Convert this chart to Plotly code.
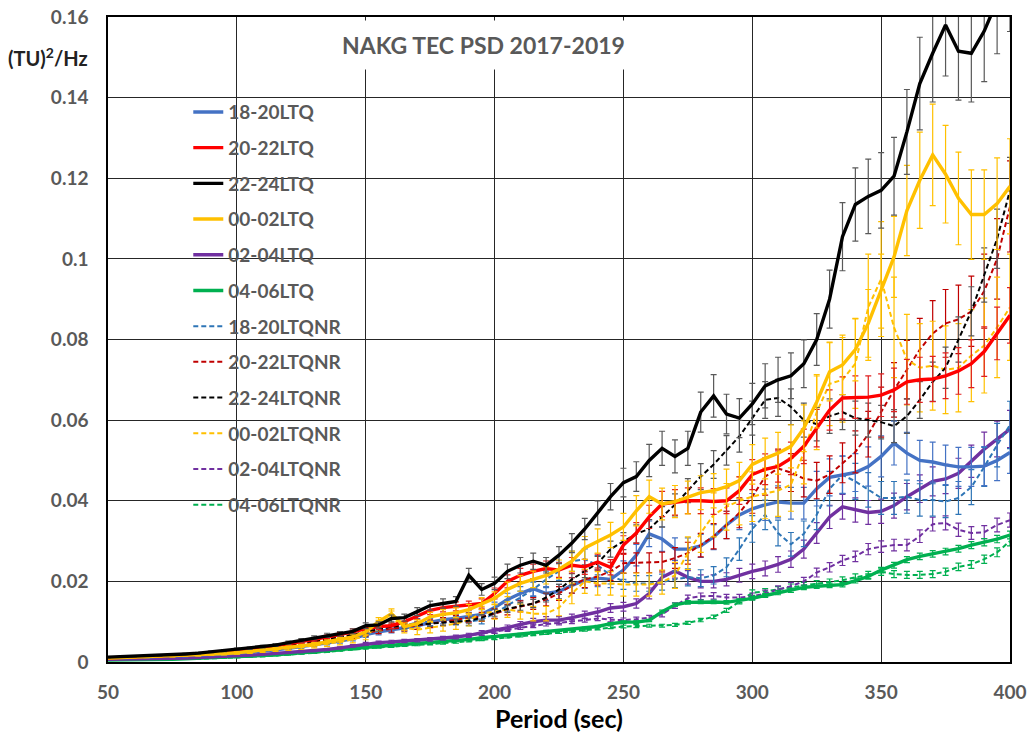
import plotly.graph_objects as go

periods = list(range(50, 405, 5))

ltq_18_20 = [0.0009, 0.0010, 0.0011, 0.0012, 0.0013, 0.0014, 0.0015, 0.0016, 0.0018, 0.0020,
             0.0022, 0.0024, 0.0027, 0.0030, 0.0034, 0.0038, 0.0042, 0.0047, 0.0052, 0.0058,
             0.0068, 0.0075, 0.0080, 0.0085, 0.0090, 0.0098, 0.0105, 0.0108, 0.0112, 0.0118,
             0.0135, 0.0155, 0.0170, 0.0182, 0.0170, 0.0175, 0.0190, 0.0203, 0.0208, 0.0205,
             0.0228, 0.0265, 0.0318, 0.0305, 0.0280, 0.0280, 0.0288, 0.0310, 0.0340, 0.0365,
             0.0380, 0.0390, 0.0397, 0.0394, 0.0394, 0.0430, 0.0458, 0.0465, 0.0470, 0.0485,
             0.0510, 0.0543, 0.0518, 0.0500, 0.0496, 0.0489, 0.0484, 0.0484, 0.0486, 0.0500,
             0.0520]
ltq_20_22 = [0.0010, 0.0011, 0.0012, 0.0013, 0.0014, 0.0015, 0.0017, 0.0019, 0.0021, 0.0023,
             0.0026, 0.0030, 0.0036, 0.0040, 0.0045, 0.0050, 0.0056, 0.0062, 0.0068, 0.0076,
             0.0082, 0.0088, 0.0090, 0.0100, 0.0115, 0.0128, 0.0135, 0.0138, 0.0140, 0.0145,
             0.0170, 0.0200, 0.0215, 0.0225, 0.0232, 0.0228, 0.0240, 0.0236, 0.0248, 0.0235,
             0.0290, 0.0320, 0.0360, 0.0392, 0.0396, 0.0400, 0.0400, 0.0398, 0.0400, 0.0425,
             0.0465, 0.0478, 0.0485, 0.0505, 0.0535, 0.0580, 0.0625, 0.0655, 0.0657, 0.0657,
             0.0662, 0.0675, 0.0695, 0.0700, 0.0702, 0.0710, 0.0722, 0.0740, 0.0770, 0.0815,
             0.0860]
ltq_22_24 = [0.0012, 0.0013, 0.0014, 0.0015, 0.0016, 0.0018, 0.0020, 0.0022, 0.0025, 0.0028,
             0.0032, 0.0034, 0.0038, 0.0042, 0.0048, 0.0054, 0.0060, 0.0066, 0.0070, 0.0076,
             0.0090, 0.0092, 0.0108, 0.0110, 0.0125, 0.0140, 0.0145, 0.0150, 0.0215, 0.0180,
             0.0195, 0.0225, 0.0240, 0.0250, 0.0240, 0.0265, 0.0295, 0.0330, 0.0370, 0.0410,
             0.0445, 0.0460, 0.0500, 0.0530, 0.0510, 0.0530, 0.0620, 0.0660, 0.0615, 0.0605,
             0.0640, 0.0685, 0.0700, 0.0710, 0.0740, 0.0800, 0.0900, 0.1055, 0.1135, 0.1155,
             0.1170, 0.1205, 0.1315, 0.1435, 0.1510, 0.1580, 0.1515, 0.1510, 0.1565, 0.1640,
             0.1700]
ltq_00_02 = [0.0010, 0.0011, 0.0012, 0.0013, 0.0014, 0.0015, 0.0016, 0.0018, 0.0019, 0.0021,
             0.0023, 0.0026, 0.0030, 0.0033, 0.0036, 0.0040, 0.0044, 0.0050, 0.0055, 0.0062,
             0.0075, 0.0100, 0.0120, 0.0088, 0.0095, 0.0112, 0.0118, 0.0122, 0.0130, 0.0145,
             0.0158, 0.0180, 0.0195, 0.0205, 0.0215, 0.0230, 0.0250, 0.0283, 0.0300, 0.0315,
             0.0335, 0.0375, 0.0410, 0.0392, 0.0398, 0.0408, 0.0420, 0.0425, 0.0435, 0.0450,
             0.0490, 0.0505, 0.0518, 0.0535, 0.0580, 0.0645, 0.0720, 0.0737, 0.0775, 0.0840,
             0.0920, 0.1005, 0.1120, 0.1195, 0.1258, 0.1210, 0.1150, 0.1110, 0.1110, 0.1137,
             0.1180]
ltq_02_04 = [0.0007, 0.0007, 0.0008, 0.0008, 0.0009, 0.0009, 0.0010, 0.0011, 0.0012, 0.0013,
             0.0015, 0.0017, 0.0019, 0.0021, 0.0023, 0.0025, 0.0028, 0.0031, 0.0035, 0.0040,
             0.0045, 0.0048, 0.0050, 0.0052, 0.0054, 0.0056, 0.0059, 0.0062, 0.0066, 0.0072,
             0.0078, 0.0085, 0.0093, 0.0100, 0.0104, 0.0104, 0.0110, 0.0117, 0.0124, 0.0134,
             0.0137, 0.0145, 0.0170, 0.0210, 0.0226, 0.0210, 0.0200, 0.0200, 0.0205, 0.0215,
             0.0225, 0.0232, 0.0242, 0.0255, 0.0280, 0.0320, 0.0360, 0.0385, 0.0377, 0.0371,
             0.0374, 0.0388, 0.0410, 0.0430, 0.0448, 0.0454, 0.0468, 0.0498, 0.0528, 0.0553,
             0.0578]
ltq_04_06 = [0.0005, 0.0005, 0.0006, 0.0006, 0.0007, 0.0007, 0.0008, 0.0009, 0.0010, 0.0011,
             0.0012, 0.0014, 0.0016, 0.0018, 0.0020, 0.0022, 0.0025, 0.0028, 0.0031, 0.0034,
             0.0037, 0.0040, 0.0042, 0.0044, 0.0046, 0.0048, 0.0050, 0.0053, 0.0056, 0.0060,
             0.0063, 0.0066, 0.0069, 0.0073, 0.0076, 0.0078, 0.0080, 0.0084, 0.0088, 0.0095,
             0.0099, 0.0099, 0.0103, 0.0125, 0.0142, 0.0148, 0.0149, 0.0149, 0.0148, 0.0152,
             0.0158, 0.0165, 0.0172, 0.0178, 0.0185, 0.0188, 0.0190, 0.0192, 0.0202, 0.0212,
             0.0228, 0.0240, 0.0254, 0.0262, 0.0268, 0.0274, 0.0281, 0.0290, 0.0297, 0.0305,
             0.0315]
nr_18_20 = [0.0009, 0.0010, 0.0011, 0.0012, 0.0013, 0.0014, 0.0015, 0.0016, 0.0018, 0.0020,
            0.0022, 0.0025, 0.0028, 0.0031, 0.0035, 0.0039, 0.0044, 0.0050, 0.0056, 0.0062,
            0.0070, 0.0080, 0.0085, 0.0090, 0.0098, 0.0100, 0.0100, 0.0102, 0.0100, 0.0105,
            0.0120, 0.0140, 0.0160, 0.0180, 0.0205, 0.0225, 0.0250, 0.0255, 0.0240, 0.0215,
            0.0200, 0.0195, 0.0195, 0.0198, 0.0205, 0.0210, 0.0208, 0.0215, 0.0235, 0.0280,
            0.0330, 0.0365, 0.0320, 0.0292, 0.0318, 0.0365, 0.0430, 0.0464, 0.0448, 0.0427,
            0.0407, 0.0407, 0.0410, 0.0402, 0.0402, 0.0398, 0.0407, 0.0434, 0.0484, 0.0538,
            0.0588]
nr_20_22 = [0.0010, 0.0011, 0.0012, 0.0013, 0.0014, 0.0015, 0.0016, 0.0018, 0.0020, 0.0022,
            0.0024, 0.0027, 0.0031, 0.0035, 0.0039, 0.0043, 0.0048, 0.0054, 0.0060, 0.0066,
            0.0072, 0.0078, 0.0082, 0.0086, 0.0090, 0.0095, 0.0100, 0.0105, 0.0110, 0.0112,
            0.0120, 0.0130, 0.0138, 0.0145, 0.0155, 0.0170, 0.0190, 0.0205, 0.0212, 0.0225,
            0.0245, 0.0246, 0.0246, 0.0248, 0.0258, 0.0270, 0.0290, 0.0312, 0.0340, 0.0370,
            0.0410, 0.0460, 0.0480, 0.0470, 0.0455, 0.0450, 0.0465, 0.0494, 0.0521, 0.0565,
            0.0620, 0.0675, 0.0725, 0.0775, 0.0815, 0.0840, 0.0850, 0.0870, 0.0920, 0.1000,
            0.1130]
nr_22_24 = [0.0011, 0.0012, 0.0013, 0.0014, 0.0015, 0.0016, 0.0018, 0.0020, 0.0022, 0.0024,
            0.0027, 0.0030, 0.0034, 0.0038, 0.0042, 0.0047, 0.0052, 0.0057, 0.0062, 0.0068,
            0.0075, 0.0082, 0.0088, 0.0090, 0.0092, 0.0095, 0.0098, 0.0100, 0.0102, 0.0110,
            0.0122, 0.0132, 0.0138, 0.0145, 0.0160, 0.0180, 0.0205, 0.0225, 0.0245, 0.0280,
            0.0300, 0.0318, 0.0330, 0.0360, 0.0390, 0.0425, 0.0460, 0.0490, 0.0525, 0.0560,
            0.0605, 0.0650, 0.0655, 0.0633, 0.0600, 0.0590, 0.0610, 0.0620, 0.0605, 0.0600,
            0.0595, 0.0585, 0.0610, 0.0650, 0.0695, 0.0730, 0.0800, 0.0870, 0.0960, 0.1050,
            0.1170]
nr_00_02 = [0.0010, 0.0011, 0.0012, 0.0013, 0.0014, 0.0015, 0.0016, 0.0017, 0.0019, 0.0021,
            0.0023, 0.0025, 0.0028, 0.0031, 0.0034, 0.0037, 0.0041, 0.0045, 0.0050, 0.0056,
            0.0065, 0.0090, 0.0110, 0.0085, 0.0080, 0.0085, 0.0090, 0.0095, 0.0105, 0.0120,
            0.0125, 0.0130, 0.0125, 0.0120, 0.0120, 0.0135, 0.0170, 0.0200, 0.0195, 0.0195,
            0.0192, 0.0192, 0.0192, 0.0198, 0.0215, 0.0270, 0.0320, 0.0365, 0.0385, 0.0400,
            0.0410, 0.0418, 0.0425, 0.0440, 0.0520, 0.0620, 0.0690, 0.0700, 0.0740, 0.0880,
            0.0950, 0.0830, 0.0750, 0.0730, 0.0735, 0.0725, 0.0730, 0.0760, 0.0785, 0.0830,
            0.0880]
nr_02_04 = [0.0007, 0.0007, 0.0008, 0.0008, 0.0009, 0.0009, 0.0010, 0.0011, 0.0012, 0.0013,
            0.0014, 0.0016, 0.0018, 0.0020, 0.0022, 0.0024, 0.0027, 0.0030, 0.0034, 0.0038,
            0.0042, 0.0045, 0.0048, 0.0050, 0.0052, 0.0055, 0.0058, 0.0062, 0.0066, 0.0070,
            0.0075, 0.0080, 0.0085, 0.0090, 0.0094, 0.0097, 0.0100, 0.0104, 0.0108, 0.0105,
            0.0104, 0.0106, 0.0110, 0.0118, 0.0140, 0.0158, 0.0163, 0.0164, 0.0160, 0.0160,
            0.0163, 0.0170, 0.0180, 0.0188, 0.0200, 0.0222, 0.0235, 0.0252, 0.0262, 0.0280,
            0.0286, 0.0290, 0.0290, 0.0312, 0.0342, 0.0345, 0.0328, 0.0320, 0.0322, 0.0340,
            0.0352]
nr_04_06 = [0.0005, 0.0005, 0.0005, 0.0006, 0.0006, 0.0007, 0.0007, 0.0008, 0.0009, 0.0010,
            0.0011, 0.0012, 0.0014, 0.0016, 0.0018, 0.0020, 0.0022, 0.0025, 0.0028, 0.0031,
            0.0034, 0.0036, 0.0038, 0.0040, 0.0042, 0.0044, 0.0046, 0.0049, 0.0052, 0.0055,
            0.0058, 0.0062, 0.0065, 0.0068, 0.0071, 0.0074, 0.0077, 0.0080, 0.0083, 0.0086,
            0.0088, 0.0089, 0.0090, 0.0090, 0.0092, 0.0097, 0.0104, 0.0112, 0.0128, 0.0150,
            0.0172, 0.0175, 0.0180, 0.0186, 0.0190, 0.0194, 0.0198, 0.0203, 0.0210, 0.0216,
            0.0224, 0.0218, 0.0216, 0.0216, 0.0218, 0.0224, 0.0236, 0.0242, 0.0255, 0.0272,
            0.0300]

series_names = ["18-20LTQ", "20-22LTQ", "22-24LTQ", "00-02LTQ", "02-04LTQ", "04-06LTQ",
                "18-20LTQNR", "20-22LTQNR", "22-24LTQNR", "00-02LTQNR", "02-04LTQNR", "04-06LTQNR"]
series_values = [ltq_18_20, ltq_20_22, ltq_22_24, ltq_00_02, ltq_02_04, ltq_04_06,
                 nr_18_20, nr_20_22, nr_22_24, nr_00_02, nr_02_04, nr_04_06]
error_percent = [10, 8, 8, 10, 8, 3, 10, 10, 7, 15, 5, 4]

y_tickvals = [0, 0.02, 0.04, 0.06, 0.08, 0.1, 0.12, 0.14, 0.16]
y_ticktext = ["0", "0.02", "0.04", "0.06", "0.08", "0.1", "0.12", "0.14", "0.16"]
x_tickvals = [50, 100, 150, 200, 250, 300, 350, 400]

line_colors = ["#4472C4", "#FF0000", "#000000", "#FFC000", "#7030A0", "#00B050",
               "#2E75B6", "#C00000", "#000000", "#FFC000", "#7030A0", "#00B050"]
err_colors = ["#4472C4", "#E02020", "#595959", "#FFC000", "#7030A0", "#00B050",
              "#2E75B6", "#C00000", "#595959", "#FFC000", "#7030A0", "#00B050"]

fig = go.Figure()
draw_order = [11, 10, 5, 4, 6, 0, 7, 9, 8, 1, 3, 2]
traces = {}
for i in range(12):
    dashed = i >= 6
    traces[i] = go.Scatter(
        x=periods, y=series_values[i], name=series_names[i], mode="lines",
        legendgroup=series_names[i], legendrank=i + 1,
        line=dict(color=line_colors[i], width=2 if dashed else 3.4,
                  dash="5px,3px" if dashed else "solid"),
        error_y=dict(type="percent", value=error_percent[i], color=err_colors[i],
                     thickness=1.2, width=3),
    )
for i in draw_order:
    fig.add_trace(traces[i])

font_main = "Lato, 'Open Sans', sans-serif"

fig.update_layout(
    width=1033, height=733,
    margin=dict(l=108, r=23, t=17, b=71),
    paper_bgcolor="white", plot_bgcolor="white",
    showlegend=True,
    legend=dict(x=0.089, y=0.882, xanchor="left", yanchor="top",
                bgcolor="rgba(0,0,0,0)", borderwidth=0,
                font=dict(family=font_main, size=19, color="#595959", weight="bold"),
                tracegroupgap=8, traceorder="grouped"),
    xaxis=dict(range=[50, 400], tickvals=x_tickvals, showgrid=True, automargin=False,
               gridcolor="#262626", gridwidth=1.2, zeroline=False,
               showline=True, linecolor="#000000", linewidth=2, mirror=True,
               ticks="", ticklabelstandoff=12, ticklabeloverflow="allow",
               tickfont=dict(family=font_main, size=19, color="#595959", weight="bold"),
               title=dict(text="Period (sec)", standoff=4,
                          font=dict(family=font_main, size=25, color="#000000", weight="bold"))),
    yaxis=dict(range=[0, 0.16], tickvals=y_tickvals, ticktext=y_ticktext, showgrid=True,
               automargin=False,
               gridcolor="#262626", gridwidth=1.2, zeroline=False,
               showline=True, linecolor="#000000", linewidth=1.5, mirror=True,
               ticks="", ticklabelstandoff=14, ticklabeloverflow="allow",
               tickfont=dict(family=font_main, size=19, color="#595959", weight="bold")),
    shapes=[
        dict(type="rect", xref="paper", yref="paper", x0=0.044, x1=0.295, y0=0.206, y1=0.882,
             fillcolor="white", line=dict(width=0), layer="between"),
    ],
    annotations=[
        dict(text="NAKG TEC PSD 2017-2019", xref="paper", yref="paper", x=0.416, y=0.957,
             xanchor="center", yanchor="middle", showarrow=False, bgcolor="white",
             borderpad=10,
             font=dict(family=font_main, size=23, color="#595959", weight="bold")),
        dict(text="(TU)<sup>2</sup>/Hz", xref="paper", yref="paper", x=-0.02, y=0.938,
             xanchor="right", yanchor="middle", showarrow=False,
             font=dict(family=font_main, size=20, color="#222222", weight="bold")),
    ],
)

# remove the browser's default 8px body margin so the figure fills the window exactly
fig.write_html("out.html", config={"displayModeBar": False},
               post_script="document.body.style.margin='0';document.body.style.overflow='hidden';")
